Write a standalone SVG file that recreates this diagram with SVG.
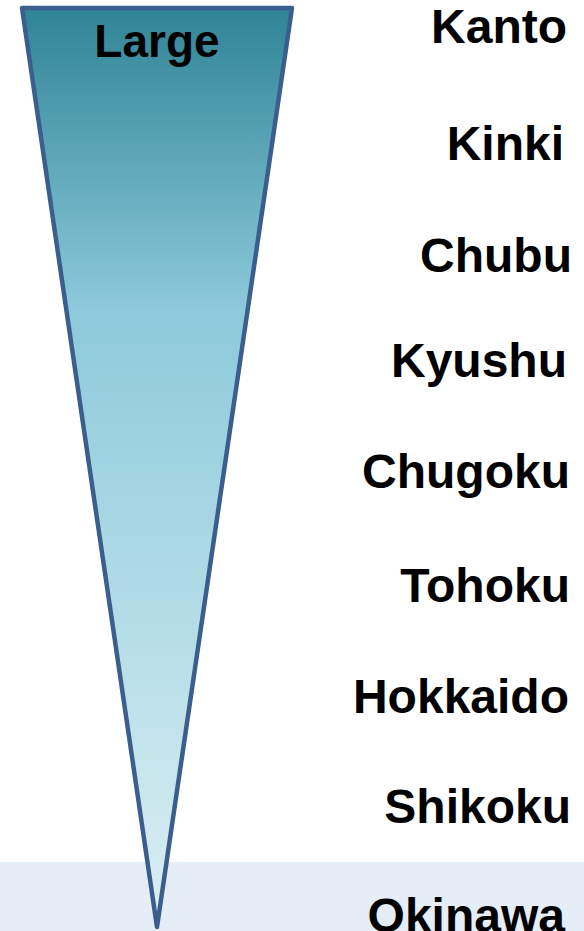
<svg xmlns="http://www.w3.org/2000/svg" width="584" height="931" viewBox="0 0 584 931">
<defs>
<linearGradient id="g" x1="0" y1="0" x2="0" y2="1">
<stop offset="0" stop-color="#2f8496"/>
<stop offset="0.33" stop-color="#8dcadb"/>
<stop offset="1" stop-color="#dbeff3"/>
</linearGradient>
<style>
.t{font-family:"Liberation Sans",Arial,sans-serif;font-weight:bold;font-size:48px;fill:#000;text-anchor:end}
</style>
</defs>
<rect x="0" y="862" width="584" height="69" fill="#e5edf7"/>
<g id="triangle">
<path d="M22,8 L292,8 L157,927 Z" fill="url(#g)" stroke="#3b5e8e" stroke-width="4.5" stroke-linejoin="round"/>
<text x="157" y="57" style="font-family:'Liberation Sans',Arial,sans-serif;font-weight:bold;font-size:46px;text-anchor:middle">Large</text>
</g>
<g id="labels">
<text class="t" x="567" y="43">Kanto</text>
<text class="t" x="564" y="160">Kinki</text>
<text class="t" x="572" y="272">Chubu</text>
<text class="t" x="567" y="377">Kyushu</text>
<text class="t" x="570" y="488">Chugoku</text>
<text class="t" x="570" y="602">Tohoku</text>
<text class="t" x="569" y="713">Hokkaido</text>
<text class="t" x="571" y="823">Shikoku</text>
<text class="t" x="565" y="932">Okinawa</text>
</g>
<g id="connectors"/>
</svg>
